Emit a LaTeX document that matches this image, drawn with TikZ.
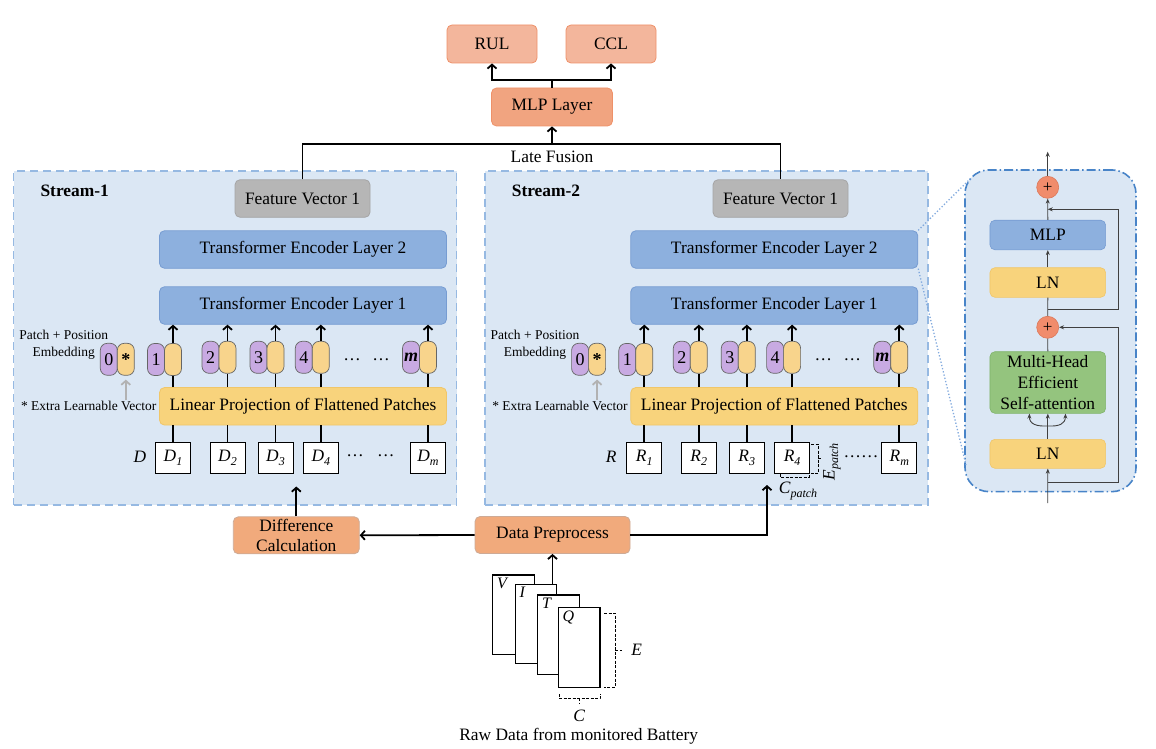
\documentclass[tikz,border=0pt]{standalone}
\usepackage{fontspec}
\setmainfont{Liberation Serif}
\usetikzlibrary{arrows.meta,positioning,calc}

\definecolor{streamfill}{RGB}{219,231,244}
\definecolor{streamline}{RGB}{150,185,226}
\definecolor{encfill}{RGB}{141,176,222}
\definecolor{encline}{RGB}{118,156,210}
\definecolor{featfill}{RGB}{182,182,182}
\definecolor{featline}{RGB}{165,165,165}
\definecolor{projfill}{RGB}{248,211,124}
\definecolor{projline}{RGB}{240,198,105}
\definecolor{posfill}{RGB}{200,170,226}
\definecolor{vecfill}{RGB}{248,212,140}
\definecolor{outfill}{RGB}{243,182,156}
\definecolor{outline}{RGB}{238,145,105}
\definecolor{headfill}{RGB}{241,164,128}
\definecolor{prepfill}{RGB}{241,170,124}
\definecolor{prepline}{RGB}{205,170,150}
\definecolor{attnfill}{RGB}{148,196,126}
\definecolor{attnline}{RGB}{128,180,108}
\definecolor{addfill}{RGB}{240,140,108}
\definecolor{addline}{RGB}{220,120,90}
\definecolor{panelline}{RGB}{72,132,200}
\definecolor{zoomline}{RGB}{130,170,222}

\newcommand{\idx}[2]{\textit{#1}\raisebox{-0.45ex}{\fontsize{12}{12}\selectfont\textit{#2}}}

\begin{document}
\begin{tikzpicture}[
        x=1pt, y=-1pt,
        >={Straight Barb[length=4pt,width=9pt]},
        line width=1.8pt
    ]

    \tikzstyle{box} = [rectangle,rounded corners=5pt,draw,line width=0.8pt,inner sep=0pt,align=center,font=\fontsize{17.4}{21}\selectfont]
    \tikzstyle{encoder} = [box,fill=encfill,draw=encline,minimum width=287pt,minimum height=37.5pt]
    \tikzstyle{projection} = [box,fill=projfill,draw=projline,minimum width=287pt,minimum height=37.5pt]
    \tikzstyle{feature} = [box,fill=featfill,draw=featline,minimum width=135pt,minimum height=37.5pt]
    \tikzstyle{output} = [box,fill=outfill,draw=outline,minimum width=90pt,minimum height=38pt]
    \tikzstyle{headbox} = [box,fill=headfill,draw=outline,minimum width=121pt,minimum height=38pt]
    \tikzstyle{prep} = [box,fill=prepfill,draw=prepline,minimum height=37pt]
    \tikzstyle{stream} = [rectangle,fill=streamfill,draw=streamline,dash pattern=on 8pt off 5pt,line width=1.6pt,minimum width=443pt,minimum height=334pt]
    \tikzstyle{panel} = [rectangle,rounded corners=24pt,fill=streamfill,draw=panelline,dash pattern=on 9pt off 3pt on 1.5pt off 3pt,line width=1.6pt,minimum width=171pt,minimum height=321.7pt]
    \tikzstyle{embpos} = [rectangle,rounded corners=7pt,draw=black!60,fill=posfill,line width=0.7pt,minimum width=17pt,minimum height=32pt,inner sep=0pt,font=\fontsize{18}{18}\selectfont]
    \tikzstyle{embvec} = [embpos,fill=vecfill]
    \tikzstyle{patchbox} = [rectangle,draw,fill=white,line width=1pt,minimum width=35pt,minimum height=31.6pt,inner sep=0pt,font=\fontsize{17.4}{21}\selectfont]
    \tikzstyle{sheet} = [rectangle,draw,fill=white,line width=1.2pt,minimum width=41.6pt,minimum height=79.3pt,inner sep=0pt]
    \tikzstyle{note} = [align=center,inner sep=0pt,font=\fontsize{13.5}{16.6}\selectfont]
    \tikzstyle{plain} = [inner sep=0pt,align=center,font=\fontsize{17.4}{21}\selectfont]
    \tikzstyle{sublayer} = [box,line width=0.6pt,minimum width=115.7pt,minimum height=29.6pt]
    \tikzstyle{addnode} = [circle,draw=addline,fill=addfill,line width=0.6pt,minimum size=22pt,inner sep=0pt,font=\fontsize{17}{17}\selectfont]
    \tikzstyle{flow} = [line width=1.8pt,->]
    \tikzstyle{link} = [line width=1.8pt]
    \tikzstyle{grayflow} = [line width=1.8pt,draw=black!30,->]
    \tikzstyle{thinflow} = [line width=0.9pt,draw=black!75,-{Stealth[length=5pt,width=4pt]}]
    \tikzstyle{thinlink} = [line width=0.9pt,draw=black!75]
    \tikzstyle{bracket} = [line width=0.9pt,dash pattern=on 3pt off 1.5pt]
    \tikzstyle{zoomview} = [draw=zoomline,line width=1.3pt,dotted]

    \useasboundingbox (0,0) rectangle (1156,749);

    % prediction heads
    \node[output] (rul) at (492,44) {RUL};
    \node[output] (ccl) at (611,44) {CCL};
    \node[headbox] (mlp) at (552,107) {MLP Layer};
    \coordinate (split) at (552,80);
    \draw[link] (mlp.north) -- (split);
    \draw[flow] (split) -| (rul.south);
    \draw[flow] (split) -| (ccl.south);

    % the two streams
    \foreach \s/\dx/\L/\fx in {1/0/D/302.5, 2/471.3/R/309.2} {
        \begin{scope}[xshift=\dx pt]
            \node[stream] (stream\s) at (235,338) {};
            \node[plain,font=\fontsize{17.4}{21}\selectfont\bfseries] (title\s) at (74.7,190.5) {Stream-\s};
            \node[feature] (fv\s) at (\fx,198.5) {Feature Vector 1};
            \node[encoder] (enctwo\s) at (303,249.5) {Transformer Encoder Layer 2};
            \node[encoder] (encone\s) at (303,305.5) {Transformer Encoder Layer 1};
            \node[projection] (proj\s) at (303,406.3) {Linear Projection of Flattened Patches};
            \node[note] (embed\s) at (63.7,345) {Patch + Position\\Embedding};
            \node[note] (extra\s) at (88.7,405.7) {* Extra Learnable Vector};
            \node[embpos] (zero\s) at (108.8,359.3) {0};
            \node[embvec,font=\fontsize{18}{18}\selectfont\bfseries] (star\s) at (125.8,359.3) {*};
            \draw[grayflow] (extra\s.north -| star\s.south) -- ([yshift=-4pt]star\s.south);
            \node[plain] (label\s) at (140,456.7) {\textit{\L}};
            \node[plain] (dotsa\s) at (352,360) {…};
            \node[plain] (dotsb\s) at (381,360) {…};
            \foreach \i/\t/\x/\y in {1/1/173/359.5, 2/2/227.5/357.3, 3/3/275.5/357.3, 4/4/320.8/357.3, m/\textbf{\textit{m}}/428/357.3} {
                \node[embpos] (pos\s\i) at (\x-17,\y) {\t};
                \node[embvec] (vec\s\i) at (\x,\y) {};
                \node[patchbox] (patch\s\i) at (\x,458) {\idx{\L}{\i}};
                \draw[link] (patch\s\i.north) -- (patch\s\i.north |- proj\s.south);
                \draw[link] (vec\s\i.south |- proj\s.north) -- (vec\s\i.south);
                \draw[flow] (vec\s\i.north) -- (vec\s\i.north |- encone\s.south);
            }
        \end{scope}
    }

    \node[plain] (dotsd1) at (355,456) {…};
    \node[plain] (dotsd2) at (385.7,456) {…};
    \node[plain] (dotsr) at (861,457) {……};

    % patch size of R4
    \draw[bracket] (811,444) -- (818,444) -- (818,473) -- (811,473);
    \draw[bracket] (818,458.5) -- (821.5,458.5);
    \node[plain,rotate=90] (epatch) at (832,461.7) {\idx{E}{patch}};
    \draw[bracket] (780,473.5) -- (780,477) -- (809,477) -- (809,473.5);
    \node[plain] (cpatch) at (798,491) {\idx{C}{patch}};

    % late fusion
    \coordinate (fuse) at (552,144);
    \draw[link] (fv1.north) |- (fuse) -| (fv2.north);
    \draw[flow] (fuse) -- (mlp.south);
    \node[plain] (fusion) at (552,157) {Late Fusion};

    % preprocessing
    \node[prep,minimum width=126pt] (diff) at (296.3,535.3) {Difference\\[-1pt]Calculation};
    \node[prep,minimum width=155pt] (prepro) at (552.5,535) {Data Preprocess};
    \coordinate (inone) at (296.3,486.5);
    \coordinate (intwo) at (767,485);
    \draw[flow] (prepro.west) -- (diff.east);
    \draw[flow] (diff.north) -- (inone);
    \draw[flow] (prepro.east) -| (intwo);

    % raw data sheets
    \foreach \n/\x/\y in {V/513.5/614.7, I/536/623.8, T/558.5/634.7, Q/579.2/647.5} {
        \node[sheet,label={[anchor=north west,inner sep=0pt,xshift=4pt,yshift=-3pt,font=\fontsize{16}{16}\selectfont]north west:\textit{\n}}] (\n) at (\x,\y) {};
    }
    \draw[flow] (prepro.south |- I.north) -- (prepro.south);
    \draw[bracket] (604,613) -- (615,613) -- (615,687) -- (604,687);
    \draw[bracket] (615,650) -- (622,650);
    \node[plain] (elabel) at (636.7,650) {\textit{E}};
    \draw[bracket] (559,694) -- (559,698.3) -- (600,698.3) -- (600,694);
    \draw[bracket] (579.3,698.3) -- (579.3,704);
    \node[plain] (clabel) at (579.3,715.5) {\textit{C}};
    \node[plain] (raw) at (578.7,736) {Raw Data from monitored Battery};

    % encoder layer detail
    \node[panel] (panel) at (1050.5,330.8) {};
    \node[addnode] (addtop) at (1047.7,187.3) {+};
    \node[sublayer,fill=encfill,draw=encline] (mlpblock) at (1047.8,235) {MLP};
    \node[sublayer,fill=projfill,draw=projline] (normtop) at (1047.8,282.5) {LN};
    \node[addnode] (addbottom) at (1047.7,327.3) {+};
    \node[sublayer,fill=attnfill,draw=attnline,minimum height=61.6pt,font=\fontsize{17.4}{21.3}\selectfont] (attention) at (1047.8,382.5) {Multi-Head\\Efficient\\Self-attention};
    \node[sublayer,fill=projfill,draw=projline,minimum height=29pt] (normbottom) at (1047.8,453.8) {LN};
    \coordinate (blockin) at (1047.7,503);
    \coordinate (blockout) at (1047.7,151.7);
    \coordinate (qkv) at (1047.7,426);
    \coordinate (skipa) at (1047.7,482.7);
    \coordinate (skipb) at (1047.7,309);
    \coordinate (joinb) at (1047.7,209.3);
    \draw[thinflow] (blockin) -- (normbottom.south);
    \draw[thinflow] (normbottom.north) -- (attention.south);
    \draw[thinflow] (qkv) .. controls (1036,426.5) and (1029.3,424) .. ([xshift=-18.4pt]attention.south);
    \draw[thinflow] (qkv) .. controls (1059.4,426.5) and (1065.4,424) .. ([xshift=17.6pt]attention.south);
    \draw[thinlink] (attention.north) -- (addbottom.south);
    \draw[thinlink] (addbottom.north) -- (normtop.south);
    \draw[thinflow] (normtop.north) -- (mlpblock.south);
    \draw[thinflow] (mlpblock.north) -- (addtop.south);
    \draw[thinflow] (addtop.north) -- (blockout);
    \draw[thinflow] (skipa) -- (1118.3,482.7) |- (addbottom.east);
    \draw[thinflow] (skipb) -- (1118.3,309) |- (joinb);

    % zoom lines
    \coordinate (zoomtop) at (972,177);
    \coordinate (zoombottom) at (966,465);
    \draw[zoomview] (enctwo2.north east) -- (zoomtop);
    \draw[zoomview] (enctwo2.south east) -- (zoombottom);

\end{tikzpicture}
\end{document}
